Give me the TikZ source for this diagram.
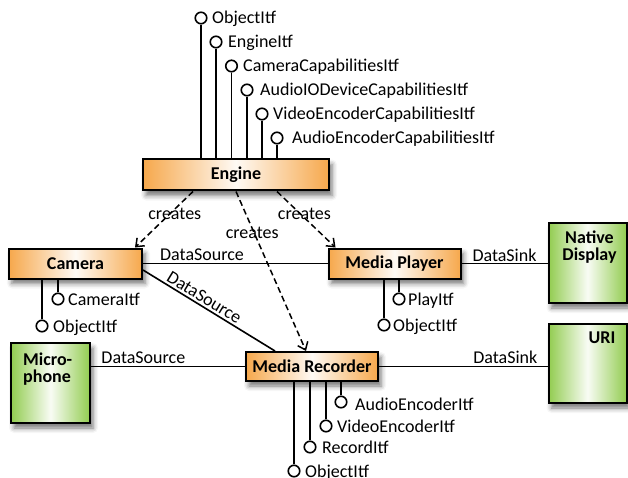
\documentclass[tikz,border=0pt]{standalone}
\usepackage{fontspec}
\setmainfont{Carlito}
\usetikzlibrary{arrows.meta,shadows.blur,calc}
\definecolor{orng}{RGB}{246,168,76}
\definecolor{grn}{RGB}{146,204,80}
\begin{document}
\begin{tikzpicture}[x=1pt,y=-1pt,
  every node/.style={font=\fontsize{18}{17}\selectfont},
  shad/.style={blur shadow={shadow xshift=3pt,shadow yshift=-5pt,shadow blur radius=5pt,shadow opacity=55}},
  obox/.style={draw, line width=2pt, left color=orng, right color=orng, middle color=orng!6, shad,
    font=\fontsize{18}{17}\selectfont\bfseries, inner sep=0pt},
  gbox/.style={draw, line width=2pt, left color=grn, right color=grn, middle color=grn!6, shad, inner sep=0pt},
  boxtxt/.style={font=\fontsize{18}{17}\selectfont\bfseries, inner sep=0pt},
  lolli/.style={circle, draw, line width=1.6pt, fill=white, minimum size=11.5pt, inner sep=0pt},
  itf/.style={anchor=base west, inner sep=0pt},
  conn/.style={line width=1.6pt},
  clabel/.style={inner sep=2pt},
  creates/.style={line width=1.5pt, dash pattern=on 6pt off 3.5pt,
    -{Straight Barb[length=7pt,width=11pt,line width=1.5pt]}},
]
\useasboundingbox (0,0) rectangle (628,478);

% boxes
\node[obox, minimum width=186pt, minimum height=31pt] (eng) at (236,175) {Engine};
\node[obox, minimum width=133pt, minimum height=30pt] (cam) at (75.5,263.5) {Camera};
\node[obox, minimum width=132pt, minimum height=30pt] (ply) at (394.5,263.5) {Media Player};
\node[obox, minimum width=132pt, minimum height=29pt] (rec) at (312,366.5) {Media Recorder};
\node[gbox, minimum width=79pt, minimum height=80pt] (mic) at (50.5,383) {};
\node[gbox, minimum width=78pt, minimum height=80pt] (nd) at (587.5,263) {};
\node[gbox, minimum width=78pt, minimum height=79pt] (uri) at (587.5,363.5) {};

\node[boxtxt, anchor=north west, align=left] (mict) at (23,352.5) {Micro-\\phone};
\node[boxtxt, anchor=north, align=center] (ndt) at (589.5,230.5) {Native\\Display};
\node[boxtxt, anchor=north] (urit) at (602,331.5) {URI};

% Engine interfaces
\node[lolli] (e1) at (201,18) {};
\node[lolli] (e2) at (216,42) {};
\node[lolli] (e3) at (231.5,66) {};
\node[lolli] (e4) at (247,90) {};
\node[lolli] (e5) at (262,114) {};
\node[lolli] (e6) at (277,138) {};
\foreach \n in {e1,e2,e3,e4,e5,e6} \draw[conn] (\n) -- (\n |- eng.north);
\node[itf] (e1t) at (212,24) {ObjectItf};
\node[itf] (e2t) at (228,48) {EngineItf};
\node[itf] (e3t) at (243,72) {CameraCapabilitiesItf};
\node[itf] (e4t) at (260,96) {AudioIODeviceCapabilitiesItf};
\node[itf] (e5t) at (273,120) {VideoEncoderCapabilitiesItf};
\node[itf] (e6t) at (292,144) {AudioEncoderCapabilitiesItf};

% Camera interfaces
\node[lolli] (c1) at (42,326) {};
\node[lolli] (c2) at (58,299) {};
\draw[conn] (c1) -- (c1 |- cam.south);
\draw[conn] (c2) -- (c2 |- cam.south);
\node[itf] (c1t) at (53,332) {ObjectItf};
\node[itf] (c2t) at (68,305) {CameraItf};

% Player interfaces
\node[lolli] (p1) at (384,325) {};
\node[lolli] (p2) at (399,299) {};
\draw[conn] (p1) -- (p1 |- ply.south);
\draw[conn] (p2) -- (p2 |- ply.south);
\node[itf] (p1t) at (393,331) {ObjectItf};
\node[itf] (p2t) at (408,305) {PlayItf};

% Recorder interfaces
\node[lolli] (r1) at (294,471) {};
\node[lolli] (r2) at (310,447) {};
\node[lolli] (r3) at (326,426) {};
\node[lolli] (r4) at (341,402) {};
\foreach \n in {r1,r2,r3,r4} \draw[conn] (\n) -- (\n |- rec.south);
\node[itf] (r1t) at (305,477) {ObjectItf};
\node[itf] (r2t) at (322,453.5) {RecordItf};
\node[itf] (r3t) at (337,432.5) {VideoEncoderItf};
\node[itf] (r4t) at (355,410) {AudioEncoderItf};

% data connections
\draw[conn] (cam.east) -- node[clabel, above, pos=0.32] {DataSource} (ply.west);
\draw[conn] (ply.east) -- node[clabel, above, inner sep=1.5pt] {DataSink} (ply.east -| nd.west);
\draw[conn] (mic.east |- rec.west) -- node[clabel, above, pos=0.34] {DataSource} (rec.west);
\draw[conn] (rec.east) -- node[clabel, above, pos=0.75] {DataSink} (rec.east -| uri.west);
\draw[conn] ($(cam.east)+(0,6.5)$) -- node[clabel, sloped, above, pos=0.43] {DataSource} ($(rec.north west)+(30,0)$);

% creates
\draw[creates] ($(eng.south west)+(51,0)$) -- node[pos=0.4, xshift=5pt, inner sep=0pt] {creates} ($(cam.north east)+(-8,0)$);
\draw[creates] ($(eng.south west)+(135,0)$) -- node[pos=0.4, xshift=4pt, inner sep=0pt] {creates} ($(ply.north west)+(8,0)$);
\draw[creates] ($(eng.south west)+(94,0)$) -- node[pos=0.26, xshift=-2pt, inner sep=0pt] {creates} ($(rec.north west)+(61,0)$);
\end{tikzpicture}
\end{document}
